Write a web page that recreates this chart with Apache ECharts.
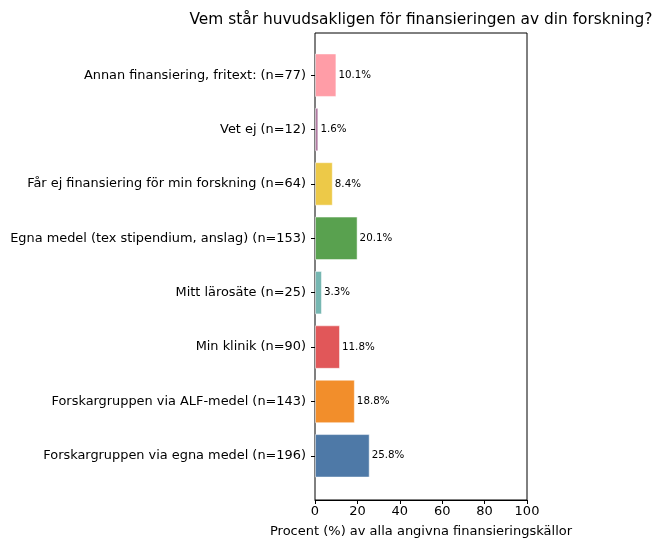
<!DOCTYPE html>
<html>
<head>
<meta charset="utf-8">
<script src="https://cdn.jsdelivr.net/npm/echarts@6/dist/echarts.min.js"></script>
<style>
  html, body { margin: 0; padding: 0; background: #fff; }
  #chart { width: 654px; height: 543px; }
</style>
</head>
<body>
<div id="chart"></div>
<script>
// kategorier nerifrån och upp
const categories = [
  'Forskargruppen via egna medel (n=196)',
  'Forskargruppen via ALF-medel (n=143)',
  'Min klinik (n=90)',
  'Mitt lärosäte (n=25)',
  'Egna medel (tex stipendium, anslag) (n=153)',
  'Får ej finansiering för min forskning (n=64)',
  'Vet ej (n=12)',
  'Annan finansiering, fritext: (n=77)'
]
const percent = [25.8, 18.8, 11.8, 3.3, 20.1, 8.4, 1.6, 10.1]
const colors = ['#4e79a7', '#f28e2b', '#e15759', '#76b7b2', '#59a14f', '#edc948', '#b07aa1', '#ff9da7']
const xTicks = [0, 20, 40, 60, 80, 100]

const font = 'DejaVu Sans'
const myChart = echarts.init(document.getElementById('chart'))
let option = {
  animation: false,
  textStyle: { fontFamily: font },
  title: {
    text: 'Vem står huvudsakligen för finansieringen av din forskning?',
    left: 416,
    textAlign: 'center',
    top: 7,
    textStyle: { fontSize: 15.4, fontWeight: 'normal', color: '#000', fontFamily: font }
  },
  grid: [
    // ram + x-axel
    { left: 315, right: 127, top: 33, bottom: 42, show: true, borderColor: '#000', borderWidth: 1, backgroundColor: 'transparent' },
    // staplar
    { left: 315, right: 127, top: 48, bottom: 60 }
  ],
  xAxis: [
    {
      gridIndex: 0,
      type: 'value',
      min: xTicks[0],
      max: xTicks[xTicks.length - 1],
      interval: 20,
      name: 'Procent (%) av alla angivna finansieringskällor',
      nameLocation: 'middle',
      nameGap: 25,
      nameTextStyle: { fontSize: 13, color: '#000', fontFamily: font },
      axisLine: { show: true, lineStyle: { color: '#000' } },
      axisTick: { show: true, length: 4, lineStyle: { color: '#000' } },
      axisLabel: { fontSize: 13, color: '#000', margin: 5 },
      splitLine: { show: false }
    },
    { gridIndex: 1, type: 'value', min: 0, max: 100, show: false }
  ],
  yAxis: [
    { gridIndex: 0, type: 'value', show: false },
    {
      gridIndex: 1,
      type: 'category',
      data: categories,
      axisLine: { show: false },
      axisTick: { show: true, alignWithLabel: true, length: 4, lineStyle: { color: '#000' } },
      axisLabel: { fontSize: 12.9, color: '#000', margin: 9 },
      splitLine: { show: false }
    }
  ],
  series: [
    {
      type: 'bar',
      xAxisIndex: 1,
      yAxisIndex: 1,
      barWidth: '80%',
      data: percent.map((v, i) => ({
        value: v,
        itemStyle: { color: colors[i], borderColor: 'rgba(255,255,255,0.5)', borderWidth: 1 }
      })),
      label: {
        show: true,
        position: 'right',
        distance: 2,
        fontSize: 10.3,
        color: '#000',
        formatter: p => p.value.toFixed(1) + '%'
      }
    }
  ]
}
myChart.setOption(option)
</script>
</body>
</html>
